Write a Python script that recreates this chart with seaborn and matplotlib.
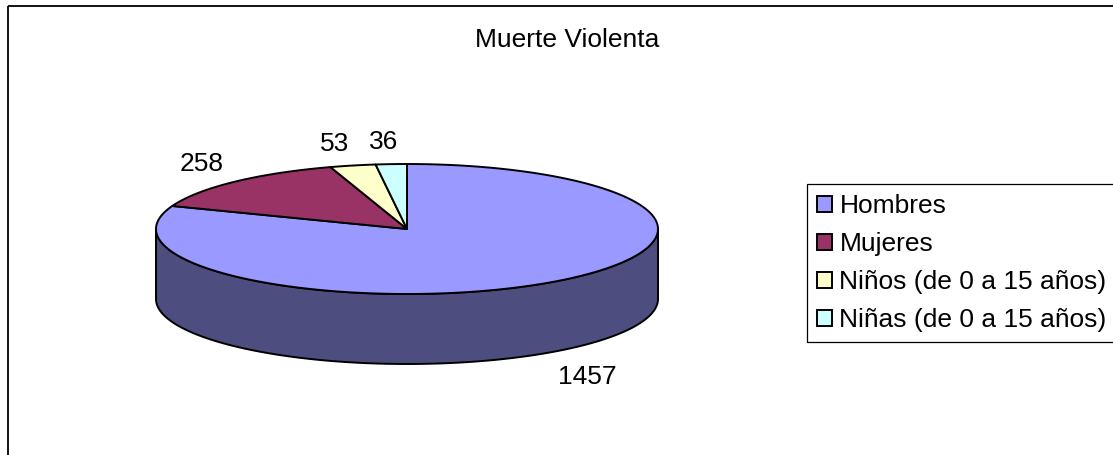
import numpy as np
import matplotlib
matplotlib.use("Agg")
import matplotlib.pyplot as plt
from matplotlib.patches import Polygon, Rectangle, Patch
import seaborn as sns

# ---- data ----
categories = ["Hombres", "Mujeres", "Niños (de 0 a 15 años)", "Niñas (de 0 a 15 años)"]
values = [1457, 258, 53, 36]
top_colors = ["#9999FF", "#993366", "#FFFFCC", "#CCFFFF"]
side_colors = ["#4D4D80", "#4D1A33", "#808066", "#668080"]
title = "Muerte Violenta"

sns.set_theme(style="white")
plt.rcParams["font.family"] = ["Liberation Sans", "DejaVu Sans"]
plt.rcParams["text.color"] = "black"

W, H = 1113, 455
FS = 19
fs_px = FS * 100 / 72.0
fig = plt.figure(figsize=(W / 100, H / 100), dpi=100)
ax = fig.add_axes([0, 0, 1, 1])
ax.set_xlim(0, W)
ax.set_ylim(H, 0)
ax.axis("off")

# outer chart frame
ax.add_patch(Rectangle((8, 6), W + 20, H + 20, fill=False, edgecolor="black", lw=1.3))

# pie geometry (layout)
cx, cy, rx, ry, depth = 407, 229, 251, 65, 70

def pt(theta, dy=0.0):
    return cx + rx * np.sin(theta), cy - ry * np.cos(theta) + dy

total = float(sum(values))
fr = np.cumsum([0] + values) / total
angles = 2 * np.pi * fr

# side walls (front half: theta in [pi/2, 3pi/2])
for i in range(len(values)):
    a0, a1 = angles[i], angles[i + 1]
    s0, s1 = max(a0, np.pi / 2), min(a1, 3 * np.pi / 2)
    if s1 <= s0:
        continue
    t = np.linspace(s0, s1, 200)
    x, y = pt(t)
    xb, yb = pt(t[::-1], dy=depth)
    poly = np.column_stack([np.concatenate([x, xb]), np.concatenate([y, yb])])
    ax.add_patch(Polygon(poly, closed=True, facecolor=side_colors[i], edgecolor="black", lw=1.4, joinstyle="round"))

# top slices
for i in range(len(values)):
    a0, a1 = angles[i], angles[i + 1]
    t = np.linspace(a0, a1, max(int(400 * (a1 - a0)), 8))
    x, y = pt(t)
    poly = np.column_stack([np.concatenate([[cx], x]), np.concatenate([[cy], y])])
    ax.add_patch(Polygon(poly, closed=True, facecolor=top_colors[i], edgecolor="black", lw=1.4, joinstyle="round"))

# data labels: label corner sits on an enlarged ellipse at the slice mid-angle
A, B = 266, 80
digit_h = 0.72 * fs_px
for i, v in enumerate(values):
    m = (angles[i] + angles[i + 1]) / 2
    s, c = np.sin(m), np.cos(m)
    front = c < 0
    label = str(v)
    half_w = len(label) * 0.556 * fs_px / 2
    g = np.sign(s) * min(1.0, abs(s) / 0.14)
    lx = cx + A * s + half_w * g
    ay = cy - B * c + (depth if front else 0)
    base = ay + digit_h if front else ay
    ax.text(lx, base, label, ha="center", va="baseline", fontsize=FS, color="black")

ax.text(567, 40, title, ha="center", va="center", fontsize=FS, color="black")

handles = [Patch(facecolor=c, edgecolor="black", lw=1.4) for c in top_colors]
leg = ax.legend(handles, categories, loc="upper left",
                bbox_to_anchor=(807 / W, 1 - 184 / H), bbox_transform=fig.transFigure,
                fontsize=FS, frameon=False, borderaxespad=0, borderpad=0.38,
                handlelength=0.55, handleheight=0.55, handletextpad=0.3,
                labelspacing=0.53, labelcolor="black")

# legend frame extends past the right edge of the image, as in the reference
fig.canvas.draw()
bb = leg.get_window_extent()
fig.patches.append(Rectangle((bb.x0, bb.y0), W, bb.height, fill=False,
                             edgecolor="black", lw=0.9, transform=None, figure=fig))

fig.savefig("out.png", dpi=100)
